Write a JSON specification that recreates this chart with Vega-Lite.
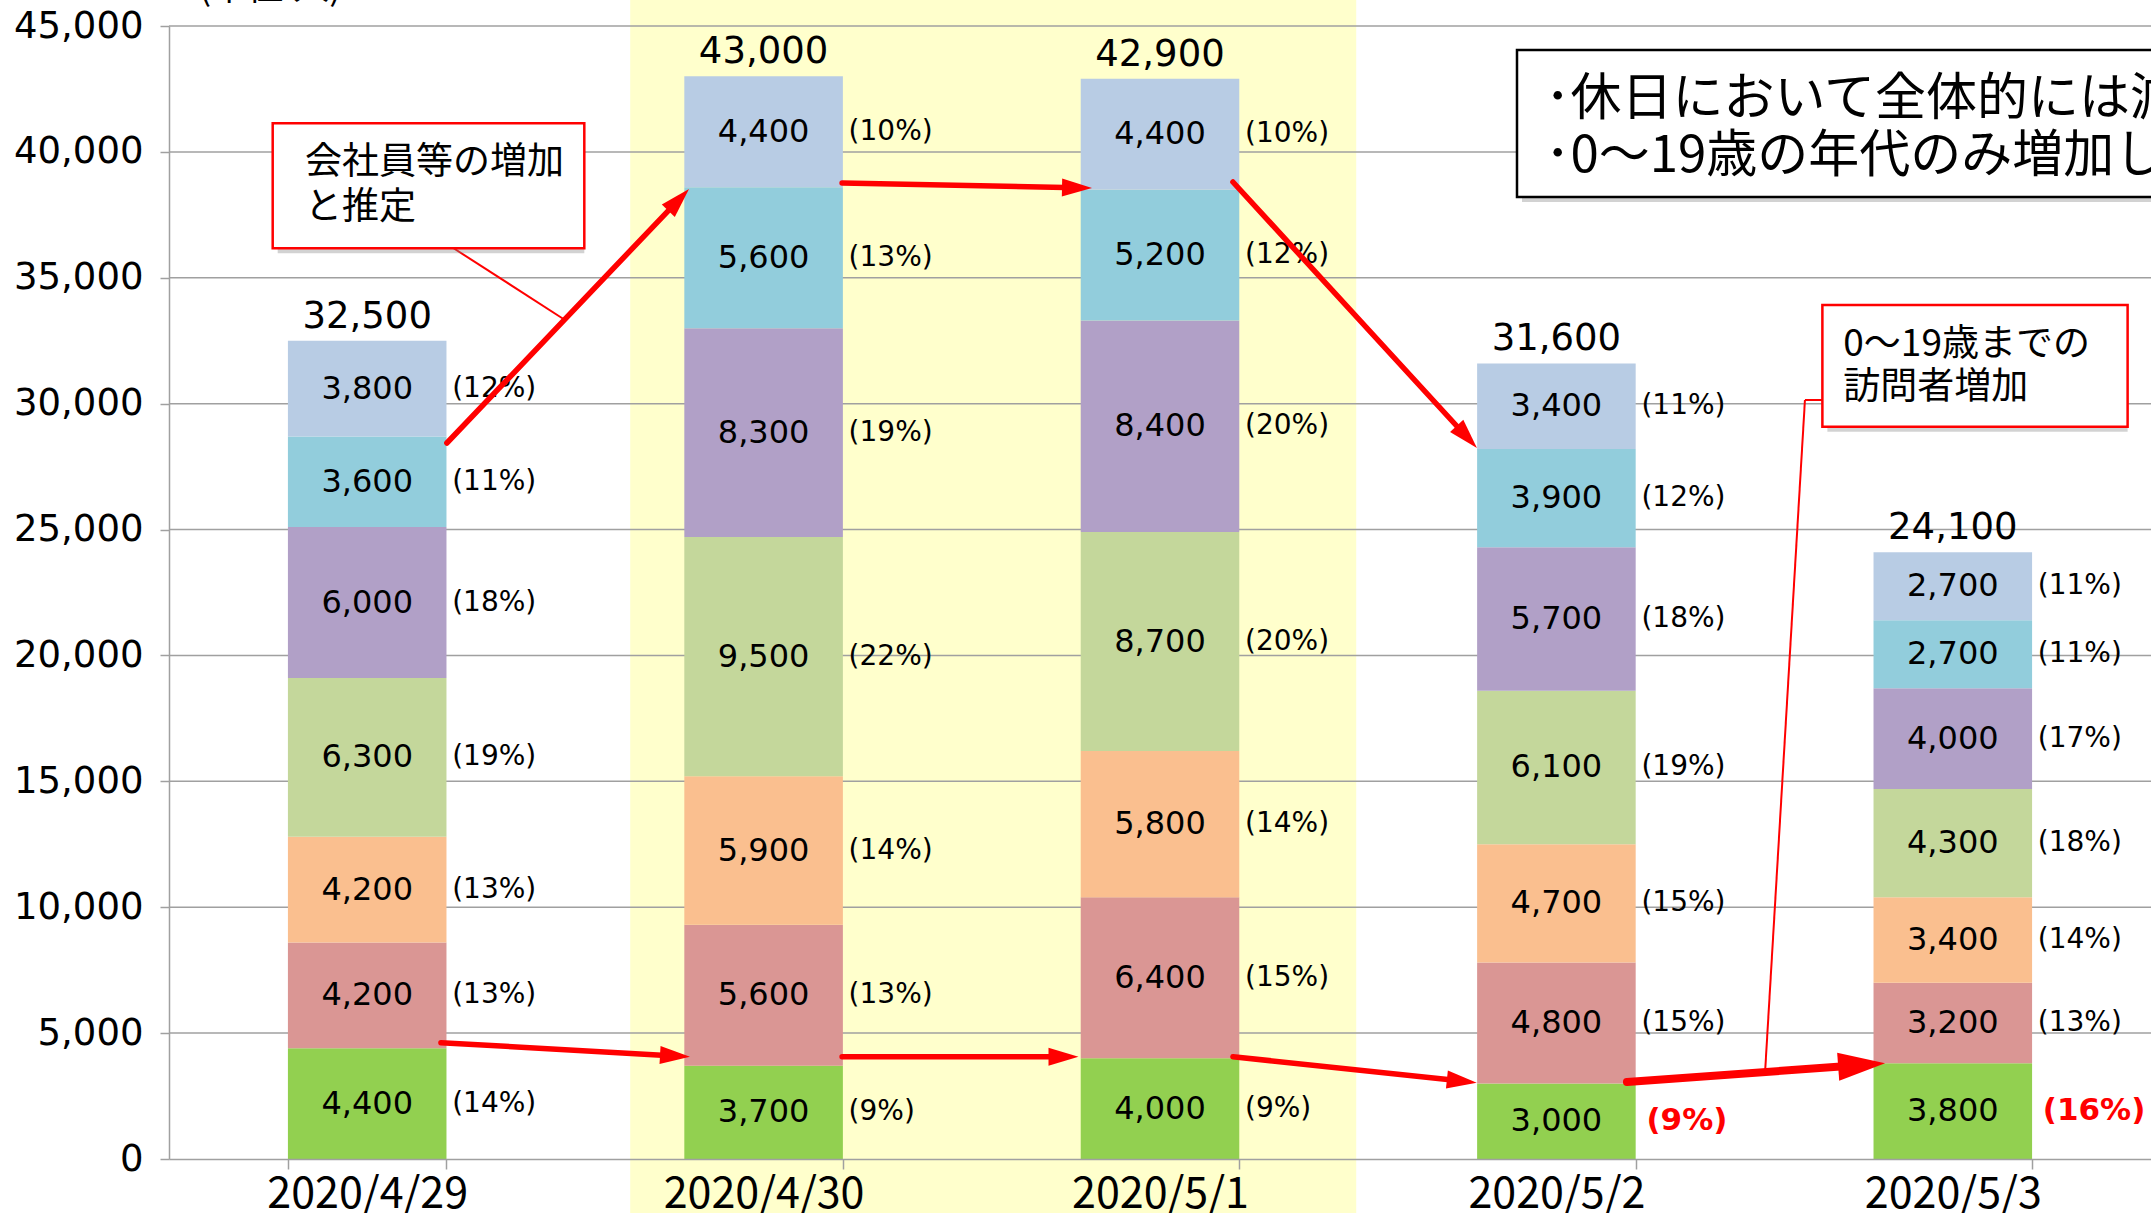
{
  "$schema": "https://vega.github.io/schema/vega-lite/v6.json",
  "width": 1982,
  "height": 1133,
  "autosize": {"type": "none"},
  "padding": {"left": 169, "top": 26, "right": 0, "bottom": 54},
  "background": "white",
  "config": {"view": {"stroke": null}, "font": "Noto Sans CJK JP"},
  "datasets": {
    "hl": [{"x": 1.1635, "x2": 2.995, "y": -3000, "y2": 47000}],
    "grid": [{"v": 5000}, {"v": 10000}, {"v": 15000}, {"v": 20000}, {"v": 25000}, {"v": 30000}, {"v": 35000}, {"v": 40000}, {"v": 45000}],
    "bars": [
      {"date": "2020/4/29", "age": "0～19歳", "ord": 1, "value": 4400, "pct": 14},
      {"date": "2020/4/29", "age": "20～29歳", "ord": 2, "value": 4200, "pct": 13},
      {"date": "2020/4/29", "age": "30～39歳", "ord": 3, "value": 4200, "pct": 13},
      {"date": "2020/4/29", "age": "40～49歳", "ord": 4, "value": 6300, "pct": 19},
      {"date": "2020/4/29", "age": "50～59歳", "ord": 5, "value": 6000, "pct": 18},
      {"date": "2020/4/29", "age": "60～69歳", "ord": 6, "value": 3600, "pct": 11},
      {"date": "2020/4/29", "age": "70歳以上", "ord": 7, "value": 3800, "pct": 12},
      {"date": "2020/4/30", "age": "0～19歳", "ord": 1, "value": 3700, "pct": 9},
      {"date": "2020/4/30", "age": "20～29歳", "ord": 2, "value": 5600, "pct": 13},
      {"date": "2020/4/30", "age": "30～39歳", "ord": 3, "value": 5900, "pct": 14},
      {"date": "2020/4/30", "age": "40～49歳", "ord": 4, "value": 9500, "pct": 22},
      {"date": "2020/4/30", "age": "50～59歳", "ord": 5, "value": 8300, "pct": 19},
      {"date": "2020/4/30", "age": "60～69歳", "ord": 6, "value": 5600, "pct": 13},
      {"date": "2020/4/30", "age": "70歳以上", "ord": 7, "value": 4400, "pct": 10},
      {"date": "2020/5/1", "age": "0～19歳", "ord": 1, "value": 4000, "pct": 9},
      {"date": "2020/5/1", "age": "20～29歳", "ord": 2, "value": 6400, "pct": 15},
      {"date": "2020/5/1", "age": "30～39歳", "ord": 3, "value": 5800, "pct": 14},
      {"date": "2020/5/1", "age": "40～49歳", "ord": 4, "value": 8700, "pct": 20},
      {"date": "2020/5/1", "age": "50～59歳", "ord": 5, "value": 8400, "pct": 20},
      {"date": "2020/5/1", "age": "60～69歳", "ord": 6, "value": 5200, "pct": 12},
      {"date": "2020/5/1", "age": "70歳以上", "ord": 7, "value": 4400, "pct": 10},
      {"date": "2020/5/2", "age": "0～19歳", "ord": 1, "value": 3000, "pct": 9},
      {"date": "2020/5/2", "age": "20～29歳", "ord": 2, "value": 4800, "pct": 15},
      {"date": "2020/5/2", "age": "30～39歳", "ord": 3, "value": 4700, "pct": 15},
      {"date": "2020/5/2", "age": "40～49歳", "ord": 4, "value": 6100, "pct": 19},
      {"date": "2020/5/2", "age": "50～59歳", "ord": 5, "value": 5700, "pct": 18},
      {"date": "2020/5/2", "age": "60～69歳", "ord": 6, "value": 3900, "pct": 12},
      {"date": "2020/5/2", "age": "70歳以上", "ord": 7, "value": 3400, "pct": 11},
      {"date": "2020/5/3", "age": "0～19歳", "ord": 1, "value": 3800, "pct": 16},
      {"date": "2020/5/3", "age": "20～29歳", "ord": 2, "value": 3200, "pct": 13},
      {"date": "2020/5/3", "age": "30～39歳", "ord": 3, "value": 3400, "pct": 14},
      {"date": "2020/5/3", "age": "40～49歳", "ord": 4, "value": 4300, "pct": 18},
      {"date": "2020/5/3", "age": "50～59歳", "ord": 5, "value": 4000, "pct": 17},
      {"date": "2020/5/3", "age": "60～69歳", "ord": 6, "value": 2700, "pct": 11},
      {"date": "2020/5/3", "age": "70歳以上", "ord": 7, "value": 2700, "pct": 11}
    ],
    "arrows": [
      {"x": 0.701, "y": 28437, "x2": 1.2857, "y2": 38094, "kind": "n"},
      {"x": 1.698, "y": 38764, "x2": 2.2906, "y2": 38577, "kind": "n"},
      {"x": 2.684, "y": 38804, "x2": 3.274, "y2": 28676, "kind": "n"},
      {"x": 0.686, "y": 4619, "x2": 1.2765, "y2": 4095, "kind": "n"},
      {"x": 1.698, "y": 4063, "x2": 2.2565, "y2": 4063, "kind": "n"},
      {"x": 2.684, "y": 4063, "x2": 3.2614, "y2": 3094, "kind": "n"},
      {"x": 3.678, "y": 3058, "x2": 4.27, "y2": 3733, "kind": "s"}
    ],
    "lines": [
      {"x": 0.7132, "y": 36222, "x2": 0.999, "y2": 33323},
      {"x": 4.172, "y": 30145, "x2": 4.127, "y2": 30145},
      {"x": 4.127, "y": 30145, "x2": 4.026, "y2": 3336}
    ],
    "boxes": [
      {"x": 0.2616, "x2": 1.0477, "y": 36171, "y2": 41135, "kind": "callout"},
      {"x": 3.4006, "x2": 5.6, "y": 38208, "y2": 44047, "kind": "note"},
      {"x": 4.171, "x2": 4.941, "y": 29085, "y2": 33918, "kind": "callout"}
    ],
    "callouts": [
      {"t": "会社員等の増加", "x": 0.3431, "y": 39578},
      {"t": "と推定", "x": 0.3431, "y": 37759},
      {"t": "0～19歳までの", "x": 4.2238, "y": 32330},
      {"t": "訪問者増加", "x": 4.2238, "y": 30610}
    ],
    "notes": [
      {"t": "･休日において全体的には減少", "x": 3.471, "y": 42061},
      {"t": "･0～19歳の年代のみ増加している", "x": 3.471, "y": 39797}
    ],
    "unit": [{"t": "(単位:人)", "x": 0.0757, "y": 46469}]
  },
  "resolve": {"scale": {"x": "independent", "size": "independent", "strokeWidth": "independent", "stroke": "independent", "color": "independent"}},
  "layer": [
    {
      "data": {"name": "hl"},
      "mark": {"type": "rect", "color": "#FFFFCC"},
      "encoding": {
        "x": {"field": "x", "type": "quantitative", "scale": {"domain": [0, 5], "nice": false, "zero": false}, "axis": null},
        "x2": {"field": "x2"},
        "y": {"field": "y", "type": "quantitative", "scale": {"domain": [0, 45000], "nice": false, "zero": false},
          "axis": {"title": null, "zindex": 1, "values": [0, 5000, 10000, 15000, 20000, 25000, 30000, 35000, 40000, 45000], "labelExpr": "format(datum.value, ',')", "grid": false, "labelFont": "DejaVu Sans", "labelFontSize": 37, "labelColor": "#000000", "tickColor": "#a0a0a0", "tickSize": 9, "tickWidth": 1.5, "domainColor": "#a0a0a0", "domainWidth": 1.5, "labelPadding": 17}},
        "y2": {"field": "y2"}
      }
    },
    {
      "data": {"name": "grid"},
      "mark": {"type": "rule", "color": "#a0a0a0", "strokeWidth": 1.5},
      "encoding": {
        "y": {"field": "v", "type": "quantitative", "scale": {"domain": [0, 45000], "nice": false, "zero": false},
          "axis": {"title": null, "zindex": 1, "values": [0, 5000, 10000, 15000, 20000, 25000, 30000, 35000, 40000, 45000], "labelExpr": "format(datum.value, ',')", "grid": false, "labelFont": "DejaVu Sans", "labelFontSize": 37, "labelColor": "#000000", "tickColor": "#a0a0a0", "tickSize": 9, "tickWidth": 1.5, "domainColor": "#a0a0a0", "domainWidth": 1.5, "labelPadding": 17}}
      }
    },
    {
      "data": {"name": "bars"},
      "mark": {"type": "bar"},
      "encoding": {
        "x": {"field": "date", "type": "nominal",
          "scale": {"domain": ["2020/4/29", "2020/4/30", "2020/5/1", "2020/5/2", "2020/5/3"], "paddingInner": 0.6, "paddingOuter": 0.3},
          "axis": {"title": null, "zindex": 1, "labelAngle": 0, "labelLimit": 0, "labelFont": "Noto Sans CJK JP", "labelFontSize": 43, "labelColor": "#000000", "tickBand": "extent", "tickColor": "#a0a0a0", "tickSize": 10, "tickWidth": 1.5, "domainColor": "#a0a0a0", "domainWidth": 1.5, "labelPadding": 4, "grid": false}},
        "y": {"field": "value", "type": "quantitative", "stack": "zero", "scale": {"domain": [0, 45000], "nice": false, "zero": false},
          "axis": {"title": null, "zindex": 1, "values": [0, 5000, 10000, 15000, 20000, 25000, 30000, 35000, 40000, 45000], "labelExpr": "format(datum.value, ',')", "grid": false, "labelFont": "DejaVu Sans", "labelFontSize": 37, "labelColor": "#000000", "tickColor": "#a0a0a0", "tickSize": 9, "tickWidth": 1.5, "domainColor": "#a0a0a0", "domainWidth": 1.5, "labelPadding": 17}},
        "color": {"field": "age", "type": "nominal",
          "scale": {"domain": ["0～19歳", "20～29歳", "30～39歳", "40～49歳", "50～59歳", "60～69歳", "70歳以上"],
            "range": ["#92D050", "#DA9694", "#FABF8F", "#C4D79B", "#B1A0C7", "#92CDDC", "#B8CCE4"]},
          "legend": null},
        "order": {"field": "ord", "type": "quantitative"}
      }
    },
    {
      "data": {"name": "bars"},
      "transform": [
        {"stack": "value", "groupby": ["date"], "sort": [{"field": "ord", "order": "ascending"}], "as": ["y0", "y1"]},
        {"calculate": "(datum.y0 + datum.y1) / 2", "as": "mid"}
      ],
      "mark": {"type": "text", "font": "DejaVu Sans", "fontSize": 32, "color": "#000000", "baseline": "middle", "align": "center"},
      "encoding": {
        "x": {"field": "date", "type": "nominal", "scale": {"domain": ["2020/4/29", "2020/4/30", "2020/5/1", "2020/5/2", "2020/5/3"], "paddingInner": 0.6, "paddingOuter": 0.3}, "axis": null},
        "y": {"field": "mid", "type": "quantitative", "scale": {"domain": [0, 45000], "nice": false, "zero": false},
          "axis": {"title": null, "zindex": 1, "values": [0, 5000, 10000, 15000, 20000, 25000, 30000, 35000, 40000, 45000], "labelExpr": "format(datum.value, ',')", "grid": false, "labelFont": "DejaVu Sans", "labelFontSize": 37, "labelColor": "#000000", "tickColor": "#a0a0a0", "tickSize": 9, "tickWidth": 1.5, "domainColor": "#a0a0a0", "domainWidth": 1.5, "labelPadding": 17}},
        "text": {"field": "value", "type": "quantitative", "format": ","}
      }
    },
    {
      "data": {"name": "bars"},
      "transform": [
        {"stack": "value", "groupby": ["date"], "sort": [{"field": "ord", "order": "ascending"}], "as": ["y0", "y1"]},
        {"calculate": "(datum.y0 + datum.y1) / 2", "as": "mid"},
        {"calculate": "'(' + datum.pct + '%)'", "as": "lbl"},
        {"filter": "!(datum.ord == 1 && (datum.date == '2020/5/2' || datum.date == '2020/5/3'))"}
      ],
      "mark": {"type": "text", "font": "DejaVu Sans", "fontSize": 28, "color": "#000000", "baseline": "middle", "align": "left", "dx": 85},
      "encoding": {
        "x": {"field": "date", "type": "nominal", "scale": {"domain": ["2020/4/29", "2020/4/30", "2020/5/1", "2020/5/2", "2020/5/3"], "paddingInner": 0.6, "paddingOuter": 0.3}, "axis": null},
        "y": {"field": "mid", "type": "quantitative", "scale": {"domain": [0, 45000], "nice": false, "zero": false},
          "axis": {"title": null, "zindex": 1, "values": [0, 5000, 10000, 15000, 20000, 25000, 30000, 35000, 40000, 45000], "labelExpr": "format(datum.value, ',')", "grid": false, "labelFont": "DejaVu Sans", "labelFontSize": 37, "labelColor": "#000000", "tickColor": "#a0a0a0", "tickSize": 9, "tickWidth": 1.5, "domainColor": "#a0a0a0", "domainWidth": 1.5, "labelPadding": 17}},
        "text": {"field": "lbl", "type": "nominal"}
      }
    },
    {
      "data": {"name": "bars"},
      "transform": [
        {"stack": "value", "groupby": ["date"], "sort": [{"field": "ord", "order": "ascending"}], "as": ["y0", "y1"]},
        {"calculate": "(datum.y0 + datum.y1) / 2", "as": "mid"},
        {"calculate": "'(' + datum.pct + '%)'", "as": "lbl"},
        {"filter": "datum.ord == 1 && (datum.date == '2020/5/2' || datum.date == '2020/5/3')"}
      ],
      "mark": {"type": "text", "font": "DejaVu Sans", "fontSize": 31, "fontWeight": "bold", "color": "#FF0000", "baseline": "middle", "align": "left", "dx": 90},
      "encoding": {
        "x": {"field": "date", "type": "nominal", "scale": {"domain": ["2020/4/29", "2020/4/30", "2020/5/1", "2020/5/2", "2020/5/3"], "paddingInner": 0.6, "paddingOuter": 0.3}, "axis": null},
        "y": {"field": "mid", "type": "quantitative", "scale": {"domain": [0, 45000], "nice": false, "zero": false},
          "axis": {"title": null, "zindex": 1, "values": [0, 5000, 10000, 15000, 20000, 25000, 30000, 35000, 40000, 45000], "labelExpr": "format(datum.value, ',')", "grid": false, "labelFont": "DejaVu Sans", "labelFontSize": 37, "labelColor": "#000000", "tickColor": "#a0a0a0", "tickSize": 9, "tickWidth": 1.5, "domainColor": "#a0a0a0", "domainWidth": 1.5, "labelPadding": 17}},
        "text": {"field": "lbl", "type": "nominal"}
      }
    },
    {
      "data": {"name": "bars"},
      "mark": {"type": "text", "font": "DejaVu Sans", "fontSize": 37, "color": "#000000", "baseline": "alphabetic", "align": "center", "dy": -13},
      "encoding": {
        "x": {"field": "date", "type": "nominal", "scale": {"domain": ["2020/4/29", "2020/4/30", "2020/5/1", "2020/5/2", "2020/5/3"], "paddingInner": 0.6, "paddingOuter": 0.3}, "axis": null},
        "y": {"aggregate": "sum", "field": "value", "type": "quantitative", "scale": {"domain": [0, 45000], "nice": false, "zero": false},
          "axis": {"title": null, "zindex": 1, "values": [0, 5000, 10000, 15000, 20000, 25000, 30000, 35000, 40000, 45000], "labelExpr": "format(datum.value, ',')", "grid": false, "labelFont": "DejaVu Sans", "labelFontSize": 37, "labelColor": "#000000", "tickColor": "#a0a0a0", "tickSize": 9, "tickWidth": 1.5, "domainColor": "#a0a0a0", "domainWidth": 1.5, "labelPadding": 17}},
        "text": {"aggregate": "sum", "field": "value", "type": "quantitative", "format": ","}
      }
    },
    {
      "data": {"name": "lines"},
      "mark": {"type": "rule", "color": "#FF0000", "strokeWidth": 2},
      "encoding": {
        "x": {"field": "x", "type": "quantitative", "scale": {"domain": [0, 5], "nice": false, "zero": false}, "axis": null},
        "x2": {"field": "x2"},
        "y": {"field": "y", "type": "quantitative", "scale": {"domain": [0, 45000], "nice": false, "zero": false},
          "axis": {"title": null, "zindex": 1, "values": [0, 5000, 10000, 15000, 20000, 25000, 30000, 35000, 40000, 45000], "labelExpr": "format(datum.value, ',')", "grid": false, "labelFont": "DejaVu Sans", "labelFontSize": 37, "labelColor": "#000000", "tickColor": "#a0a0a0", "tickSize": 9, "tickWidth": 1.5, "domainColor": "#a0a0a0", "domainWidth": 1.5, "labelPadding": 17}},
        "y2": {"field": "y2"}
      }
    },
    {
      "data": {"name": "arrows"},
      "mark": {"type": "rule", "color": "#FF0000", "strokeCap": "round"},
      "encoding": {
        "x": {"field": "x", "type": "quantitative", "scale": {"domain": [0, 5], "nice": false, "zero": false}, "axis": null},
        "x2": {"field": "x2"},
        "y": {"field": "y", "type": "quantitative", "scale": {"domain": [0, 45000], "nice": false, "zero": false},
          "axis": {"title": null, "zindex": 1, "values": [0, 5000, 10000, 15000, 20000, 25000, 30000, 35000, 40000, 45000], "labelExpr": "format(datum.value, ',')", "grid": false, "labelFont": "DejaVu Sans", "labelFontSize": 37, "labelColor": "#000000", "tickColor": "#a0a0a0", "tickSize": 9, "tickWidth": 1.5, "domainColor": "#a0a0a0", "domainWidth": 1.5, "labelPadding": 17}},
        "y2": {"field": "y2"},
        "strokeWidth": {"field": "kind", "type": "nominal", "scale": {"domain": ["n", "s"], "range": [5.5, 8]}, "legend": null}
      }
    },
    {
      "data": {"name": "arrows"},
      "transform": [
        {"calculate": "atan2(-(datum.y2 - datum.y) * 1133 / 45000, (datum.x2 - datum.x) * 396.4) * 180 / PI", "as": "ang"}
      ],
      "mark": {"type": "point", "filled": true, "opacity": 1, "color": "#FF0000", "strokeWidth": 0, "shape": "M-1,-0.6L1,0L-1,0.6Z"},
      "encoding": {
        "x": {"field": "x2", "type": "quantitative", "scale": {"domain": [0, 5], "nice": false, "zero": false}, "axis": null},
        "y": {"field": "y2", "type": "quantitative", "scale": {"domain": [0, 45000], "nice": false, "zero": false},
          "axis": {"title": null, "zindex": 1, "values": [0, 5000, 10000, 15000, 20000, 25000, 30000, 35000, 40000, 45000], "labelExpr": "format(datum.value, ',')", "grid": false, "labelFont": "DejaVu Sans", "labelFontSize": 37, "labelColor": "#000000", "tickColor": "#a0a0a0", "tickSize": 9, "tickWidth": 1.5, "domainColor": "#a0a0a0", "domainWidth": 1.5, "labelPadding": 17}},
        "size": {"field": "kind", "type": "nominal", "scale": {"domain": ["n", "s"], "range": [900, 2209]}, "legend": null},
        "angle": {"field": "ang", "type": "quantitative", "scale": null}
      }
    },
    {
      "data": {"name": "boxes"},
      "mark": {"type": "rect", "color": "#7f7f7f", "opacity": 0.35, "xOffset": 5, "yOffset": 5},
      "encoding": {
        "x": {"field": "x", "type": "quantitative", "scale": {"domain": [0, 5], "nice": false, "zero": false}, "axis": null},
        "x2": {"field": "x2"},
        "y": {"field": "y", "type": "quantitative", "scale": {"domain": [0, 45000], "nice": false, "zero": false},
          "axis": {"title": null, "zindex": 1, "values": [0, 5000, 10000, 15000, 20000, 25000, 30000, 35000, 40000, 45000], "labelExpr": "format(datum.value, ',')", "grid": false, "labelFont": "DejaVu Sans", "labelFontSize": 37, "labelColor": "#000000", "tickColor": "#a0a0a0", "tickSize": 9, "tickWidth": 1.5, "domainColor": "#a0a0a0", "domainWidth": 1.5, "labelPadding": 17}},
        "y2": {"field": "y2"}
      }
    },
    {
      "data": {"name": "boxes"},
      "mark": {"type": "rect", "fill": "#FFFFFF", "strokeWidth": 2.5},
      "encoding": {
        "x": {"field": "x", "type": "quantitative", "scale": {"domain": [0, 5], "nice": false, "zero": false}, "axis": null},
        "x2": {"field": "x2"},
        "y": {"field": "y", "type": "quantitative", "scale": {"domain": [0, 45000], "nice": false, "zero": false},
          "axis": {"title": null, "zindex": 1, "values": [0, 5000, 10000, 15000, 20000, 25000, 30000, 35000, 40000, 45000], "labelExpr": "format(datum.value, ',')", "grid": false, "labelFont": "DejaVu Sans", "labelFontSize": 37, "labelColor": "#000000", "tickColor": "#a0a0a0", "tickSize": 9, "tickWidth": 1.5, "domainColor": "#a0a0a0", "domainWidth": 1.5, "labelPadding": 17}},
        "y2": {"field": "y2"},
        "stroke": {"field": "kind", "type": "nominal", "scale": {"domain": ["callout", "note"], "range": ["#FF0000", "#000000"]}, "legend": null}
      }
    },
    {
      "data": {"name": "callouts"},
      "mark": {"type": "text", "font": "Noto Sans CJK JP", "fontSize": 37, "color": "#000000", "align": "left", "baseline": "middle"},
      "encoding": {
        "x": {"field": "x", "type": "quantitative", "scale": {"domain": [0, 5], "nice": false, "zero": false}, "axis": null},
        "y": {"field": "y", "type": "quantitative", "scale": {"domain": [0, 45000], "nice": false, "zero": false},
          "axis": {"title": null, "zindex": 1, "values": [0, 5000, 10000, 15000, 20000, 25000, 30000, 35000, 40000, 45000], "labelExpr": "format(datum.value, ',')", "grid": false, "labelFont": "DejaVu Sans", "labelFontSize": 37, "labelColor": "#000000", "tickColor": "#a0a0a0", "tickSize": 9, "tickWidth": 1.5, "domainColor": "#a0a0a0", "domainWidth": 1.5, "labelPadding": 17}},
        "text": {"field": "t", "type": "nominal"}
      }
    },
    {
      "data": {"name": "notes"},
      "mark": {"type": "text", "font": "Noto Sans CJK JP", "fontSize": 51, "color": "#000000", "align": "left", "baseline": "middle"},
      "encoding": {
        "x": {"field": "x", "type": "quantitative", "scale": {"domain": [0, 5], "nice": false, "zero": false}, "axis": null},
        "y": {"field": "y", "type": "quantitative", "scale": {"domain": [0, 45000], "nice": false, "zero": false},
          "axis": {"title": null, "zindex": 1, "values": [0, 5000, 10000, 15000, 20000, 25000, 30000, 35000, 40000, 45000], "labelExpr": "format(datum.value, ',')", "grid": false, "labelFont": "DejaVu Sans", "labelFontSize": 37, "labelColor": "#000000", "tickColor": "#a0a0a0", "tickSize": 9, "tickWidth": 1.5, "domainColor": "#a0a0a0", "domainWidth": 1.5, "labelPadding": 17}},
        "text": {"field": "t", "type": "nominal"}
      }
    },
    {
      "data": {"name": "unit"},
      "mark": {"type": "text", "font": "Noto Sans CJK JP", "fontSize": 36, "color": "#000000", "align": "left", "baseline": "middle"},
      "encoding": {
        "x": {"field": "x", "type": "quantitative", "scale": {"domain": [0, 5], "nice": false, "zero": false}, "axis": null},
        "y": {"field": "y", "type": "quantitative", "scale": {"domain": [0, 45000], "nice": false, "zero": false},
          "axis": {"title": null, "zindex": 1, "values": [0, 5000, 10000, 15000, 20000, 25000, 30000, 35000, 40000, 45000], "labelExpr": "format(datum.value, ',')", "grid": false, "labelFont": "DejaVu Sans", "labelFontSize": 37, "labelColor": "#000000", "tickColor": "#a0a0a0", "tickSize": 9, "tickWidth": 1.5, "domainColor": "#a0a0a0", "domainWidth": 1.5, "labelPadding": 17}},
        "text": {"field": "t", "type": "nominal"}
      }
    }
  ]
}
